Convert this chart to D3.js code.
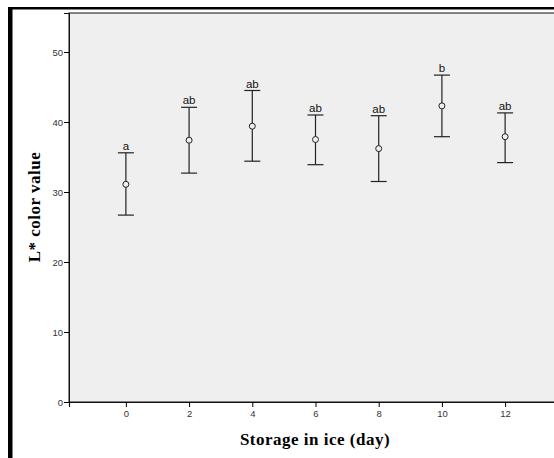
<!DOCTYPE html>
<html>
<head>
  <meta charset="utf-8">
  <script src="https://d3js.org/d3.v7.min.js"></script>
  <style>
    body { margin: 0; background: #fff; }
    .tick text { font-family: Arial, 'Liberation Sans', sans-serif; font-size: 9.5px; fill: #333; }
    .axis-title { font-family: 'Liberation Serif', 'Times New Roman', serif; font-size: 17px; font-weight: bold; letter-spacing: 0.5px; }
    .letter { font-family: Arial, 'Liberation Sans', sans-serif; font-size: 11.5px; fill: #111; }
  </style>
</head>
<body>
<div id="chart"></div>
<script>
  // values
  var days = ["0", "2", "4", "6", "8", "10", "12"];
  var means = [31.1, 37.4, 39.4, 37.5, 36.2, 42.3, 37.9];
  var upper = [35.6, 42.1, 44.5, 41.0, 40.9, 46.7, 41.3];
  var lower = [26.7, 32.7, 34.4, 33.9, 31.5, 37.9, 34.2];
  var letters = ["a", "ab", "ab", "ab", "ab", "b", "ab"];
  var yTicks = [0, 10, 20, 30, 40, 50];

  var width = 554, height = 458;
  var plot = { left: 69, top: 13, right: 562, bottom: 402 };

  var svg = d3.select("#chart").append("svg")
      .attr("width", width)
      .attr("height", height);

  // outer frame (thick left + top)
  svg.append("rect").attr("x", 8).attr("y", 7).attr("width", width).attr("height", 2.5).attr("fill", "#000");
  svg.append("rect").attr("x", 8).attr("y", 7).attr("width", 4.5).attr("height", height).attr("fill", "#000");

  var x = d3.scalePoint()
      .domain(days)
      .range([plot.left, plot.right])
      .padding(0.9);

  var y = d3.scaleLinear()
      .domain([0, (plot.bottom - plot.top) / 7])
      .range([plot.bottom, plot.top]);

  // plot background
  svg.append("rect")
      .attr("x", plot.left).attr("y", plot.top)
      .attr("width", plot.right - plot.left).attr("height", plot.bottom - plot.top)
      .attr("fill", "#efefef")
      .attr("stroke", "#111").attr("stroke-width", 1);

  // axes
  var xAxis = svg.append("g")
      .attr("transform", "translate(0," + plot.bottom + ")")
      .call(d3.axisBottom(x).tickSize(5).tickPadding(3));
  xAxis.select(".domain").attr("stroke", "#111").attr("stroke-width", 1.2);

  var yAxis = svg.append("g")
      .attr("transform", "translate(" + plot.left + ",0)")
      .call(d3.axisLeft(y).tickValues(yTicks).tickSize(5).tickPadding(1));
  yAxis.select(".domain").attr("stroke", "#111");

  // error bars
  var g = svg.append("g");
  days.forEach(function(d, i) {
    var cx = x(d);
    g.append("line")
        .attr("x1", cx).attr("x2", cx)
        .attr("y1", y(upper[i])).attr("y2", y(lower[i]))
        .attr("stroke", "#222").attr("stroke-width", 1.2);
    [upper[i], lower[i]].forEach(function(v) {
      g.append("line")
          .attr("x1", cx - 8).attr("x2", cx + 8)
          .attr("y1", y(v)).attr("y2", y(v))
          .attr("stroke", "#222").attr("stroke-width", 1.2);
    });
    g.append("circle")
        .attr("cx", cx).attr("cy", y(means[i]))
        .attr("r", 3)
        .attr("fill", "#efefef")
        .attr("stroke", "#222").attr("stroke-width", 1);
    g.append("text")
        .attr("class", "letter")
        .attr("x", cx).attr("y", y(upper[i]) - 3)
        .attr("text-anchor", "middle")
        .text(letters[i]);
  });

  // axis titles
  svg.append("text")
      .attr("class", "axis-title")
      .attr("x", 315).attr("y", 445)
      .attr("text-anchor", "middle")
      .text("Storage in ice (day)");

  svg.append("text")
      .attr("class", "axis-title")
      .attr("transform", "translate(40,207) rotate(-90)")
      .attr("text-anchor", "middle")
      .text("L* color value");
</script>
</body>
</html>
